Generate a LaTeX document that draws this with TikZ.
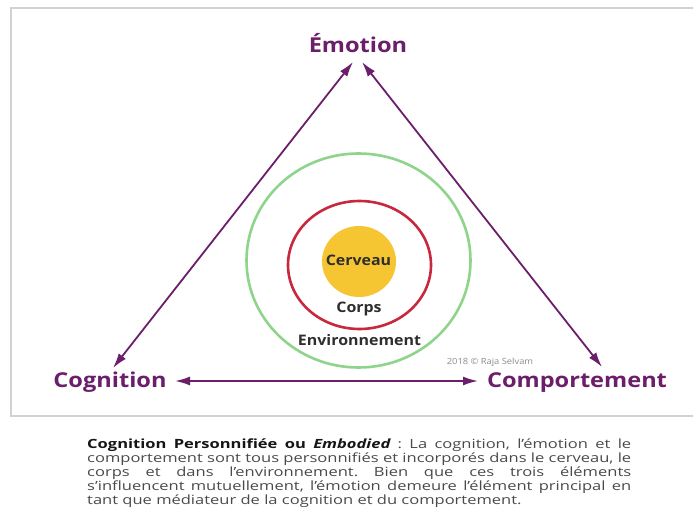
\documentclass[tikz,border=0pt]{standalone}
\usepackage{fontspec}
\setmainfont{Open Sans}
\newfontfamily\lblfont[FakeStretch=1.15]{Open Sans}
\newfontfamily\infont[FakeStretch=1.1]{Open Sans}
\newfontfamily\parfont[FakeStretch=1.3]{Open Sans}
\usetikzlibrary{arrows.meta}
\definecolor{purp}{HTML}{6B1F6B}
\definecolor{grn}{HTML}{8ED48A}
\definecolor{rd}{HTML}{C8283E}
\definecolor{yel}{HTML}{F6C532}
\definecolor{intxt}{HTML}{2E2E2E}
\definecolor{paratxt}{HTML}{4A4A4A}
\definecolor{parabold}{HTML}{151515}
\definecolor{copytxt}{HTML}{8C8C8C}
\definecolor{framegray}{HTML}{D2D2D2}
\begin{document}
\begin{tikzpicture}[x=1pt,y=-1pt,
  lbl/.style={font=\lblfont\fontsize{20.5}{24}\selectfont\bfseries, text=purp, inner sep=0pt, anchor=base},
  inlbl/.style={font=\infont\fontsize{14.5}{16}\selectfont\bfseries, text=intxt, inner sep=0pt, anchor=base},
  biarrow/.style={purp, line width=1.8pt, {Latex[length=15pt,width=9pt]}-{Latex[length=15pt,width=9pt]}},
  ring/.style={line width=2.6pt}]
\useasboundingbox (0,0) rectangle (693,513);
\fill[white] (0,0) rectangle (693,513);
% frame
\draw[framegray, line width=2pt] (693,8) -- (11,8) -- (11,416) -- (693,416);
% rings
\draw[ring, grn] (358.5,260.5) ellipse [x radius=112pt, y radius=107pt];
\draw[ring, rd] (359.5,265) ellipse [x radius=71.5pt, y radius=64pt];
\fill[yel] (359,261.5) ellipse [x radius=37pt, y radius=35.5pt];
% inner labels
\node[inlbl] (cer) at (358.5,265) {Cerveau};
\node[inlbl] (cor) at (359,312) {Corps};
\node[inlbl] (env) at (359.5,345.5) {Environnement};
\node[font=\infont\fontsize{8.5}{10}\selectfont, text=copytxt, inner sep=0pt, anchor=base] (copy) at (490,364) {2018 © Raja Selvam};
% main labels
\node[lbl] (emo) at (358,52.5) {Émotion};
\node[lbl] (cog) at (110,387) {Cognition};
\node[lbl] (comp) at (577,387) {Comportement};
% arrow end points
\coordinate (emoL) at (353,62);
\coordinate (emoR) at (362,62);
\coordinate (cogT) at (113,368);
\coordinate (compT) at (602,367);
\coordinate (cogR) at (175,381);
\coordinate (compL) at (478,381);
\draw[biarrow] (emoL) -- (cogT);
\draw[biarrow] (emoR) -- (compT);
\draw[biarrow] (cogR) -- (compL);
% caption
\node[anchor=north west, inner sep=0pt, text width=544pt, align=justify,
      font=\parfont\fontsize{12.7}{13.9}\selectfont, text=paratxt] (cap) at (87,439)
{\frenchspacing\hyphenpenalty=10000\textcolor{parabold}{\bfseries Cognition Personnifiée ou \itshape Embodied} : La cognition, l’émotion et le\linebreak
comportement sont tous personnifiés et incorporés dans le cerveau, le\linebreak
corps et dans l’environnement. Bien que ces trois éléments\linebreak
s’influencent mutuellement, l’émotion demeure l’élément principal en\linebreak
tant que médiateur de la cognition et du comportement.};
\end{tikzpicture}
\end{document}
